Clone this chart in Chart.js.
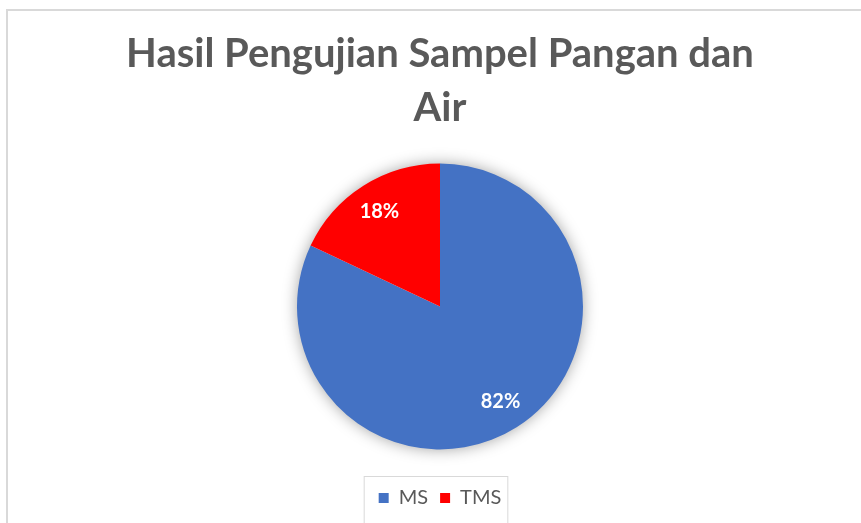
<!DOCTYPE html>
<html>
<head>
<meta charset="utf-8">
<script src="https://cdn.jsdelivr.net/npm/chart.js@4.4.0/dist/chart.umd.min.js"></script>
<style>
  html, body { margin: 0; padding: 0; background: #fff; overflow: hidden; }
  #wrap { width: 861px; height: 523px; }
</style>
</head>
<body>
<div id="wrap"><canvas id="myChart" width="861" height="523"></canvas></div>
<script>
const labels = ['MS', 'TMS'];
const values = [82, 18];
const colors = ['#4472C4', '#FF0000'];
const titleLines = ['Hasil Pengujian Sampel Pangan dan', 'Air'];

const FONT = 'Lato, "Open Sans", sans-serif';
const GREY = '#595959';

// bingkai tipis di sekeliling area grafik
const framePlugin = {
    id: 'frame',
    beforeDraw(chart) {
        const ctx = chart.ctx;
        ctx.save();
        ctx.strokeStyle = '#d9d9d9';
        ctx.lineWidth = 2;
        ctx.beginPath();
        ctx.moveTo(7, chart.height + 2);
        ctx.lineTo(7, 10);
        ctx.lineTo(chart.width + 2, 10);
        ctx.stroke();

        // kotak legenda
        const boxes = chart.legend.legendHitBoxes;
        if (boxes && boxes.length) {
            const first = boxes[0];
            const last = boxes[boxes.length - 1];
            const left = first.left - 15;
            const right = last.left + last.width + 6;
            ctx.lineWidth = 1;
            ctx.strokeStyle = '#d9d9d9';
            ctx.strokeRect(left + 0.5, chart.legend.top + 0.5, right - left, chart.height);
        }
        ctx.restore();
    }
};

// bayangan lembut di belakang pie
const shadowPlugin = {
    id: 'pieShadow',
    beforeDatasetsDraw(chart) {
        const arc = chart.getDatasetMeta(0).data[0];
        if (!arc) return;
        const ctx = chart.ctx;
        ctx.save();
        ctx.shadowColor = 'rgba(0,0,0,0.4)';
        ctx.shadowBlur = 16;
        ctx.fillStyle = '#ffffff';
        ctx.beginPath();
        ctx.arc(arc.x, arc.y, arc.outerRadius - 1, 0, Math.PI * 2);
        ctx.fill();
        ctx.restore();
    }
};

// label persen di dalam irisan
const labelPlugin = {
    id: 'pctLabels',
    afterDatasetsDraw(chart) {
        const ctx = chart.ctx;
        const meta = chart.getDatasetMeta(0);
        const total = values.reduce((a, b) => a + b, 0);
        ctx.save();
        ctx.fillStyle = '#ffffff';
        ctx.font = 'bold 20px ' + FONT;
        ctx.textAlign = 'center';
        ctx.textBaseline = 'middle';
        meta.data.forEach((arc, i) => {
            const mid = (arc.startAngle + arc.endAngle) / 2;
            const r = arc.outerRadius * 0.79;
            const x = arc.x + Math.cos(mid) * r;
            const y = arc.y + Math.sin(mid) * r;
            ctx.fillText(Math.round(values[i] / total * 100) + '%', x, y);
        });
        ctx.restore();
    }
};

new Chart(document.getElementById('myChart'), {
    type: 'pie',
    data: {
        labels,
        datasets: [{
            data: values,
            backgroundColor: colors,
            borderWidth: 0,
            radius: 143
        }]
    },
    options: {
        responsive: false,
        animation: false,
        layout: { padding: { left: 19, right: 0, top: 0, bottom: 5 } },
        plugins: {
            title: {
                display: true,
                text: titleLines,
                color: GREY,
                font: { family: FONT, size: 40, weight: 'bold', lineHeight: 1.35 },
                padding: { top: 27, bottom: 2 }
            },
            legend: {
                position: 'bottom',
                labels: {
                    color: GREY,
                    font: { family: FONT, size: 20 },
                    boxWidth: 10,
                    boxHeight: 10,
                    padding: 12
                }
            },
            tooltip: { enabled: false }
        }
    },
    plugins: [framePlugin, shadowPlugin, labelPlugin]
});
</script>
</body>
</html>
